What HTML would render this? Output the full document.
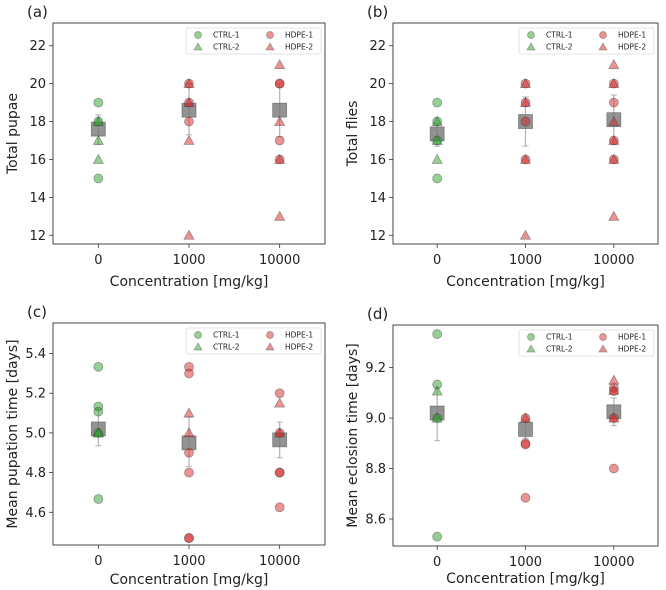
<!DOCTYPE html>
<html><head><meta charset="utf-8"><style>
body{margin:0;background:#fff;}
svg{display:block;font-family:"DejaVu Sans","Liberation Sans",sans-serif;}
</style></head><body>
<svg id="fig" width="666" height="590" viewBox="0 0 666 590"></svg>
<script>
const categories = ["0","1000","10000"];
// Panel (a) Total pupae
const aCtrl1 = [19,18,15];
const aCtrl2 = [18,17,16];
const aHdpe1 = [[20,19,18],[20,20,17,16]];
const aHdpe2 = [[20,19,17,12],[21,18,16,13]];
const aMean = [17.6,18.6,18.6];
const aLo = [16.8,17.3,17.2];
const aHi = [18.35,20.0,20.0];
const aTicks = [12,14,16,18,20,22];
// Panel (b) Total flies
const bCtrl1 = [19,18,17,15];
const bCtrl2 = [18,17,16];
const bHdpe1 = [[20,19,18,16],[20,19,17,16]];
const bHdpe2 = [[20,19,16,12],[21,20,18,17,16,13]];
const bMean = [17.35,18.0,18.1];
const bLo = [16.7,16.7,16.8];
const bHi = [17.9,19.3,19.4];
const bTicks = [12,14,16,18,20,22];
// Panel (c) Mean pupation time
const cCtrl1 = [5.333,5.133,5.107,5.0,4.667];
const cCtrl2 = [5.0,5.0];
const cHdpe1 = [[5.333,5.3,4.9,4.8,4.47,4.47],[5.2,5.0,4.8,4.8,4.625]];
const cHdpe2 = [[5.1,5.0],[5.15,5.0]];
const cMean = [5.02,4.95,4.965];
const cLo = [4.935,4.83,4.875];
const cHi = [5.12,5.08,5.055];
const cTicks = [4.6,4.8,5.0,5.2,5.4];
// Panel (d) Mean eclosion time
const dCtrl1 = [9.333,9.133,9.0,8.53];
const dCtrl2 = [9.107,9.0];
const dHdpe1 = [[9.0,8.9,8.895,8.684],[9.12,9.0,8.8,9.107]];
const dHdpe2 = [[9.0],[9.15,9.11,9.0]];
const dMean = [9.02,8.955,9.025];
const dLo = [8.91,8.92,8.97];
const dHi = [9.12,8.99,9.08];
const dTicks = [8.6,8.8,9.0,9.2];

const NS="http://www.w3.org/2000/svg";
const svg=document.getElementById('fig');
function mk(tag,attrs,parent){const e=document.createElementNS(NS,tag);for(const k in attrs)e.setAttribute(k,attrs[k]);(parent||svg).appendChild(e);return e;}

function panel(p){
  const g=mk('g',{});
  
  
  const L=p.x0,R=p.x1,T=p.y0,B=p.y1;
  const xs=i=>L+(i+0.5)/3*(R-L);
  const ys=v=>B-(v-p.ymin)/(p.ymax-p.ymin)*(B-T);
  const lt=mk('text',{x:L-26,y:T-6,'font-size':15,fill:'#222'},g);lt.textContent='('+p.id+')';
  
  
  p.ticks.forEach(t=>{
    const y=ys(t);
    mk('line',{x1:L-4,x2:L,y1:y,y2:y,stroke:'#333','stroke-width':0.8},g);
    const tx=mk('text',{x:L-7,y:y+4.5,'font-size':13,'text-anchor':'end',fill:'#222'},g);
    tx.textContent=p.fmt(t);
    
    
  });
  categories.forEach((c,i)=>{
    const x=xs(i);
    mk('line',{x1:x,x2:x,y1:B,y2:B+4,stroke:'#333','stroke-width':0.8},g);
    const tx=mk('text',{x:x,y:B+20,'font-size':13,'text-anchor':'middle',fill:'#222'},g);
    tx.textContent=c;
    
    
  });
  const xl=mk('text',{x:(L+R)/2,y:B+p.xlo,'font-size':14,'text-anchor':'middle',fill:'#222'},g);
  xl.textContent='Concentration [mg/kg]';
  
  
  const cy=(T+B)/2;
  const yl=mk('text',{x:0,y:0,'font-size':14,'text-anchor':'middle',fill:'#222',transform:`translate(${L-36},${cy}) rotate(-90)`},g);
  yl.textContent=p.ylabel;
  
  

  const green='rgba(44,160,44,0.5)', red='rgba(214,39,40,0.5)', edge='rgba(60,60,60,0.45)';
  function circ(x,y,fill,name){const e=mk('circle',{cx:x,cy:y,r:4.5,fill:fill,stroke:edge,'stroke-width':0.8},g);
    
    }
  function tri(x,y,fill,name){const s=5;const e=mk('polygon',{points:`${x},${y-s} ${x-s},${y+s*0.8} ${x+s},${y+s*0.8}`,fill:fill,stroke:edge,'stroke-width':0.8},g);
    
    }
  p.mean.forEach((m,i)=>{
    const x=xs(i);
    mk('line',{x1:x,x2:x,y1:ys(p.lo[i]),y2:ys(p.hi[i]),stroke:'rgba(128,128,128,0.6)','stroke-width':1.2},g);
    mk('line',{x1:x-3,x2:x+3,y1:ys(p.lo[i]),y2:ys(p.lo[i]),stroke:'rgba(128,128,128,0.6)','stroke-width':1},g);
    mk('line',{x1:x-3,x2:x+3,y1:ys(p.hi[i]),y2:ys(p.hi[i]),stroke:'rgba(128,128,128,0.6)','stroke-width':1},g);
    const r=mk('rect',{x:x-7,y:ys(m)-7,width:14,height:14,fill:'rgba(120,120,120,0.8)',stroke:'rgba(80,80,80,0.6)','stroke-width':0.8},g);
    
    
  });
  p.c1.forEach(v=>circ(xs(0),ys(v),green,'ctrl-1-point'));
  p.c2.forEach(v=>tri(xs(0),ys(v),green,'ctrl-2-point'));
  p.h1.forEach((arr,k)=>arr.forEach(v=>circ(xs(k+1),ys(v),red,'hdpe-1-point')));
  p.h2.forEach((arr,k)=>arr.forEach(v=>tri(xs(k+1),ys(v),red,'hdpe-2-point')));
  mk('rect',{x:L,y:T,width:R-L,height:B-T,fill:'none',stroke:'#333','stroke-width':0.9},g);
  const lg=mk('g',{},g);
  
  
  const lx=R-139,ly=T+5;
  mk('rect',{x:lx,y:ly,width:135,height:26,fill:'#fff',stroke:'#ddd','stroke-width':0.8,rx:2},lg);
  const ents=[['CTRL-1',0,0,'c',green],['CTRL-2',0,1,'t',green],['HDPE-1',1,0,'c',red],['HDPE-2',1,1,'t',red]];
  ents.forEach(e=>{
    const mx=lx+12+e[1]*72, my=ly+7+e[2]*12;
    if(e[3]=='c'){mk('circle',{cx:mx,cy:my,r:3.5,fill:e[4],stroke:edge,'stroke-width':0.7},lg);}
    else{mk('polygon',{points:`${mx},${my-4} ${mx-4},${my+3} ${mx+4},${my+3}`,fill:e[4],stroke:edge,'stroke-width':0.7},lg);}
    const t=mk('text',{x:mx+15,y:my+2.7,'font-size':7.5,fill:'#222'},lg);t.textContent=e[0];
    
    
  });
}
const f0=v=>String(v), f1=v=>v.toFixed(1);
panel({id:'a',x0:53,x1:325,y0:23,y1:244,xlo:42,ymin:11.54,ymax:23.2,ticks:aTicks,fmt:f0,ylabel:'Total pupae',c1:aCtrl1,c2:aCtrl2,h1:aHdpe1,h2:aHdpe2,mean:aMean,lo:aLo,hi:aHi});
panel({id:'b',x0:393,x1:658,y0:23,y1:244,xlo:42,ymin:11.54,ymax:23.2,ticks:bTicks,fmt:f0,ylabel:'Total flies',c1:bCtrl1,c2:bCtrl2,h1:bHdpe1,h2:bHdpe2,mean:bMean,lo:bLo,hi:bHi});
panel({id:'c',x0:53,x1:325,y0:323,y1:545,xlo:39,ymin:4.435,ymax:5.554,ticks:cTicks,fmt:f1,ylabel:'Mean pupation time [days]',c1:cCtrl1,c2:cCtrl2,h1:cHdpe1,h2:cHdpe2,mean:cMean,lo:cLo,hi:cHi});
panel({id:'d',x0:393,x1:658,y0:325,y1:546,xlo:37,ymin:8.493,ymax:9.369,ticks:dTicks,fmt:f1,ylabel:'Mean eclosion time [days]',c1:dCtrl1,c2:dCtrl2,h1:dHdpe1,h2:dHdpe2,mean:dMean,lo:dLo,hi:dHi});
</script>
</body></html>
